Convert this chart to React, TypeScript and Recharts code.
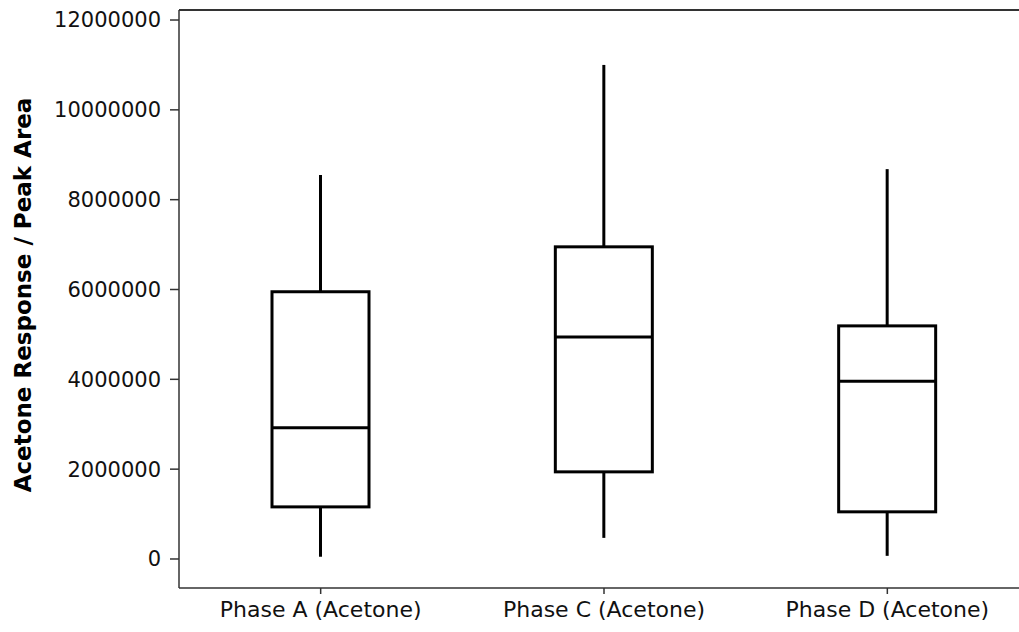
import React from "react";
import { ComposedChart, Bar, XAxis, YAxis, ReferenceLine } from "recharts";

// Five-number summaries per sample group
const categories = ["Phase A (Acetone)", "Phase C (Acetone)", "Phase D (Acetone)"];
const minValues = [50000, 470000, 70000];
const q1Values = [1160000, 1940000, 1050000];
const medianValues = [2920000, 4940000, 3960000];
const q3Values = [5950000, 6950000, 5190000];
const maxValues = [8550000, 11000000, 8680000];

const yTicks = [0, 2000000, 4000000, 6000000, 8000000, 10000000, 12000000];
const yDomain: [number, number] = [-646000, 12223000];
const yTitle = "Acetone Response / Peak Area";

const data = categories.map((name, i) => ({
  name,
  min: minValues[i],
  q1: q1Values[i],
  median: medianValues[i],
  q3: q3Values[i],
  max: maxValues[i],
  range: [minValues[i], maxValues[i]],
}));

const FONT = "'DejaVu Sans', Verdana, sans-serif";
const INK = "#000";
const AXIS = "#333";

// Draws whiskers, box and median inside the bar's min..max extent
const BoxShape = (props: any) => {
  const { x, y, width, height, payload } = props;
  if (!payload) return null;
  const top = Math.min(y, y + height);
  const span = Math.abs(height);
  const k = span / (payload.max - payload.min);
  const py = (v: number) => top + (payload.max - v) * k;
  const cx = x + width / 2;
  const yMax = py(payload.max);
  const yQ3 = py(payload.q3);
  const yMed = py(payload.median);
  const yQ1 = py(payload.q1);
  const yMin = py(payload.min);
  return (
    <g>
      <line x1={cx} x2={cx} y1={yMax} y2={yQ3} stroke={INK} strokeWidth={3} />
      <line x1={cx} x2={cx} y1={yQ1} y2={yMin} stroke={INK} strokeWidth={3} />
      <rect x={x} y={yQ3} width={width} height={yQ1 - yQ3} fill="#fff" stroke={INK} strokeWidth={3} />
      <line x1={x} x2={x + width} y1={yMed} y2={yMed} stroke={INK} strokeWidth={3} />
    </g>
  );
};

const YTitle = (props: any) => {
  const vb = props.viewBox || {};
  const x = (vb.x ?? 0) + 23;
  const y = (vb.y ?? 0) + (vb.height ?? 0) / 2 - 4;
  return (
    <text
      x={x}
      y={y}
      transform={`rotate(-90, ${x}, ${y})`}
      textAnchor="middle"
      dominantBaseline="central"
      fontFamily={FONT}
      fontWeight="bold"
      fontSize={23}
      fill="#000"
    >
      {yTitle}
    </text>
  );
};

export default function App() {
  return (
    <div
      style={{
        position: "absolute",
        left: 0,
        top: 0,
        width: 1019,
        height: 632,
        overflow: "hidden",
        background: "#fff",
      }}
    >
      <ComposedChart
        width={1040}
        height={632}
        data={data}
        margin={{ top: 10, right: 11, left: 0, bottom: 0 }}
      >
        <XAxis
          dataKey="name"
          height={44}
          tickSize={6}
          tickLine={{ stroke: AXIS, strokeWidth: 1.5 }}
          axisLine={{ stroke: AXIS, strokeWidth: 1.5 }}
          tick={{ fontFamily: FONT, fontSize: 22, fill: "#111" }}
          tickMargin={7}
        />
        <YAxis
          width={179}
          domain={yDomain}
          ticks={yTicks}
          allowDataOverflow
          tickSize={9}
          tickMargin={9}
          tickLine={{ stroke: AXIS, strokeWidth: 1.5 }}
          axisLine={{ stroke: AXIS, strokeWidth: 1.5 }}
          tick={{ fontFamily: FONT, fontSize: 21, fill: "#111" }}
          label={<YTitle />}
        />
        <ReferenceLine y={yDomain[1]} stroke={AXIS} strokeWidth={2} ifOverflow="visible" />
        <Bar dataKey="range" barSize={97} shape={<BoxShape />} isAnimationActive={false} />
      </ComposedChart>
    </div>
  );
}
